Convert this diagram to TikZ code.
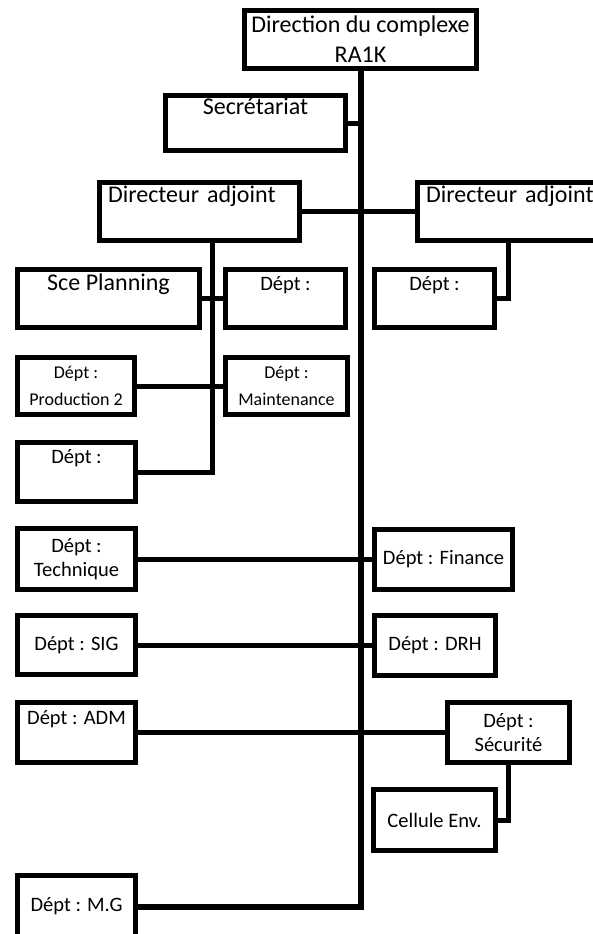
\documentclass[tikz,border=0pt]{standalone}
\usepackage{fontspec}
\setmainfont{Carlito}
\usepackage{tikz}

\begin{document}
\begin{tikzpicture}[x=1pt, y=-1pt]
    \tikzstyle{unit} = [draw, line width=5pt, fill=white, inner sep=0pt, align=center, font=\fontsize{20.5}{24}\selectfont]
    \tikzstyle{chief} = [font=\fontsize{24}{30}\selectfont]
    \tikzstyle{small} = [font=\fontsize{18}{27}\selectfont]
    \tikzstyle{topline} = [text height=17pt, text depth=34pt]
    \tikzstyle{adjoint} = [align=left, text width=183pt, inner xsep=8.5pt, text height=17pt, text depth=36pt]
    \tikzstyle{link} = [line width=5pt]
    \tikzstyle{trunk} = [line width=6pt]
    \useasboundingbox (0,0) rectangle (592,934);
    \coordinate (lbus) at (212,0);
    \coordinate (rbus) at (508,0);
    \node [unit, chief, minimum width=232pt, minimum height=58pt] at (360.5,39.5) (dir) {Direction du complexe\\RA1K};
    \node [unit, chief, topline, minimum width=180pt, minimum height=55pt] at (255.5,123) (secr) {Secrétariat};
    \node [unit, chief, adjoint, minimum height=58pt] at (199.5,211.5) (adjL) {Directeur adjoint};
    \node [unit, chief, adjoint, minimum height=58pt] at (517.5,211.5) (adjR) {Directeur adjoint};
    \node [unit, chief, topline, minimum width=182pt, minimum height=58pt] at (108.5,298.5) (plan) {Sce Planning};
    \node [unit, topline, minimum width=120pt, minimum height=58pt] at (285.5,298.5) (deptA) {Dépt :};
    \node [unit, topline, minimum width=120pt, minimum height=58pt] at (434.5,298.5) (deptB) {Dépt :};
    \node [unit, small, minimum width=117pt, minimum height=57pt] at (76,386) (prod2) {Dépt :\\Production 2};
    \node [unit, small, minimum width=122pt, minimum height=57pt] at (286.5,386) (maint) {Dépt :\\Maintenance};
    \node [unit, topline, minimum width=118pt, minimum height=59pt] at (76.5,472) (deptC) {Dépt :};
    \node [unit, minimum width=118pt, minimum height=61pt] at (76.5,559) (tech) {Dépt :\\Technique};
    \node [unit, minimum width=138pt, minimum height=60pt] at (443.5,559) (fin) {Dépt : Finance};
    \node [unit, minimum width=118pt, minimum height=59pt] at (76.5,645) (sig) {Dépt : SIG};
    \node [unit, minimum width=121pt, minimum height=60pt] at (435,645) (drh) {Dépt : DRH};
    \node [unit, topline, minimum width=118pt, minimum height=60pt] at (76.5,732.5) (adm) {Dépt : ADM};
    \node [unit, minimum width=122pt, minimum height=60pt] at (508.5,732.5) (secu) {Dépt :\\Sécurité};
    \node [unit, minimum width=122pt, minimum height=61pt] at (434.5,820) (cell) {Cellule Env.};
    \node [unit, minimum width=118pt, minimum height=62pt] at (76.5,906.5) (mg) {Dépt : M.G};
    \draw [trunk] (dir.south) |- (mg.east);
    \draw [link] (secr.east) -- (secr.east -| dir.south);
    \draw [link] (adjL.east) -- (adjR.west);
    \draw [link] (adjL.south -| lbus) |- (deptC.east);
    \draw [link] (plan.east) -- (deptA.west);
    \draw [link] (adjR.south -| rbus) |- (deptB.east);
    \draw [link] (prod2.east) -- (maint.west);
    \draw [link] (tech.east) -- (fin.west);
    \draw [link] (sig.east) -- (drh.west);
    \draw [link] (adm.east) -- (secu.west);
    \draw [link] (secu.south) |- (cell.east);
\end{tikzpicture}
\end{document}
